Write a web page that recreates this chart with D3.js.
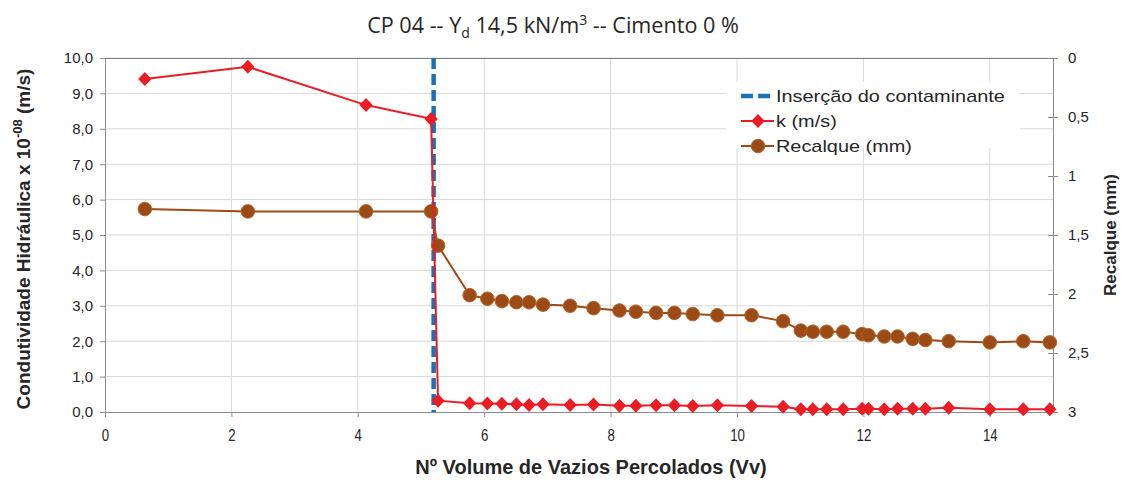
<!DOCTYPE html>
<html>
<head>
<meta charset="utf-8">
<script src="https://cdn.jsdelivr.net/npm/d3@7"></script>
<style>
  html, body { margin: 0; padding: 0; background: #fff; }
  svg { display: block; }
  text { font-family: "Liberation Sans", Arial, sans-serif; fill: #262626; }
</style>
</head>
<body>
<svg id="chart" width="1125" height="482"></svg>
<script>
// Volumes of voids percolated (Vv)
const vv = [0.63, 2.26, 4.13, 5.16, 5.27, 5.77, 6.05, 6.28, 6.51, 6.71, 6.93, 7.36, 7.73, 8.14, 8.40,
            8.72, 9.01, 9.30, 9.69, 10.23, 10.73, 11.01, 11.20, 11.42, 11.68, 11.98, 12.08, 12.33,
            12.54, 12.78, 12.98, 13.35, 14.00, 14.53, 14.95];
// Hydraulic conductivity k (x 10^-8 m/s)
const kValues = [9.41, 9.75, 8.67, 8.28, 0.32, 0.25, 0.24, 0.23, 0.22, 0.20, 0.22, 0.20, 0.21, 0.18, 0.18,
                 0.19, 0.19, 0.17, 0.19, 0.17, 0.15, 0.08, 0.08, 0.08, 0.08, 0.09, 0.09, 0.08,
                 0.09, 0.09, 0.09, 0.12, 0.08, 0.08, 0.08];
// Settlement (mm)
const recalque = [1.28, 1.30, 1.30, 1.30, 1.59, 2.01, 2.04, 2.06, 2.07, 2.07, 2.09, 2.10, 2.12, 2.14, 2.15,
                  2.16, 2.16, 2.17, 2.18, 2.18, 2.23, 2.31, 2.32, 2.32, 2.32, 2.34, 2.35, 2.36,
                  2.36, 2.38, 2.39, 2.40, 2.41, 2.40, 2.41];
// Contaminant insertion point
const insercao = 5.2;

const xTicks = [0, 2, 4, 6, 8, 10, 12, 14];
const leftTicks = [0, 1, 2, 3, 4, 5, 6, 7, 8, 9, 10];
const rightTicks = [0, 0.5, 1, 1.5, 2, 2.5, 3];
const legendLabels = ["Inserção do contaminante", "k (m/s)", "Recalque (mm)"];

const colK = "#ec1c24";
const colR = "#9c4a16";
const colRStroke = "#b5652a";
const colIns = "#1f6fb5";

const svg = d3.select("#chart");
const pL = 105, pR = 1053, pT = 58, pB = 412;

const x = d3.scaleLinear().domain([0, 15]).range([pL, pR]);
const yL = d3.scaleLinear().domain([0, 10]).range([pB, pT]);
const yR = d3.scaleLinear().domain([0, 3]).range([pT, pB]);

const commaFmt = f => v => d3.format(f)(v).replace(".", ",");

// grid
const grid = svg.append("g");
grid.selectAll(".gh").data(leftTicks.filter(d => d > 0)).join("line")
  .attr("x1", pL).attr("x2", pR)
  .attr("y1", d => yL(d)).attr("y2", d => yL(d))
  .attr("stroke", "#d9d9d9").attr("stroke-width", 1);
grid.selectAll(".gv").data(xTicks.filter(d => d > 0)).join("line")
  .attr("x1", d => x(d)).attr("x2", d => x(d))
  .attr("y1", pT).attr("y2", pB)
  .attr("stroke", "#d9d9d9").attr("stroke-width", 1);

// top border
svg.append("line").attr("x1", pL).attr("x2", pR).attr("y1", pT + 0.5).attr("y2", pT + 0.5)
  .attr("stroke", "#7f7f7f");

// axes
const axisStyle = g => {
  g.selectAll(".domain").attr("stroke", "#8c8c8c");
  g.selectAll(".tick line").attr("stroke", "#8c8c8c");
  g.selectAll("text").attr("fill", "#404040");
};

svg.append("g").attr("transform", `translate(0,${pB})`)
  .call(d3.axisBottom(x).tickValues(xTicks).tickSize(5).tickSizeOuter(0).tickPadding(12))
  .call(axisStyle)
  .call(g => g.selectAll("text").style("font-size", "17px").attr("transform", "scale(0.78,1)"));

svg.append("g").attr("transform", `translate(${pL},0)`)
  .call(d3.axisLeft(yL).tickValues(leftTicks).tickFormat(commaFmt(".1f")).tickSize(5).tickSizeOuter(0).tickPadding(7))
  .call(axisStyle)
  .call(g => g.selectAll("text").style("font-size", "15px"));

const rAxis = svg.append("g").attr("transform", `translate(${pR},0)`)
  .call(d3.axisRight(yR).tickValues(rightTicks).tickFormat(v => String(v).replace(".", ",")).tickSize(5).tickSizeOuter(0).tickPadding(10))
  .call(axisStyle)
  .call(g => g.selectAll("text").style("font-size", "15px"));
rAxis.selectAll(".tick line").attr("x1", -5);

// insertion line
svg.append("line")
  .attr("x1", x(insercao)).attr("x2", x(insercao))
  .attr("y1", yL(10)).attr("y2", yL(0))
  .attr("stroke", colIns).attr("stroke-width", 4.5).attr("stroke-dasharray", "11,5");

const pts = vv.map((v, i) => ({ x: v, k: kValues[i], r: recalque[i] }));

// settlement series
svg.append("path").datum(pts)
  .attr("fill", "none").attr("stroke", colR).attr("stroke-width", 2)
  .attr("d", d3.line().x(d => x(d.x)).y(d => yR(d.r)));
svg.selectAll(".rc").data(pts).join("circle")
  .attr("cx", d => x(d.x)).attr("cy", d => yR(d.r)).attr("r", 6.8)
  .attr("fill", colR).attr("stroke", colRStroke).attr("stroke-width", 1);

// conductivity series
const squareDiamond = {
  draw(ctx, size) {
    const h = Math.sqrt(size / 2);
    ctx.moveTo(0, -h); ctx.lineTo(h * 0.95, 0); ctx.lineTo(0, h); ctx.lineTo(-h * 0.95, 0); ctx.closePath();
  }
};
const diamond = d3.symbol().type(squareDiamond).size(98);
svg.append("path").datum(pts)
  .attr("fill", "none").attr("stroke", colK).attr("stroke-width", 2)
  .attr("d", d3.line().x(d => x(d.x)).y(d => yL(d.k)));
svg.selectAll(".kd").data(pts).join("path")
  .attr("transform", d => `translate(${x(d.x)},${yL(d.k)})`)
  .attr("d", diamond).attr("fill", colK);

// legend
const lg = svg.append("g").attr("transform", "translate(738,96)");
lg.append("rect").attr("x", -12).attr("y", -14).attr("width", 294).attr("height", 66).attr("fill", "#fff");
lg.append("line").attr("x1", 3).attr("x2", 36).attr("y1", 0).attr("y2", 0)
  .attr("stroke", colIns).attr("stroke-width", 4.5).attr("stroke-dasharray", "12,5");
lg.append("line").attr("x1", 3).attr("x2", 36).attr("y1", 25).attr("y2", 25)
  .attr("stroke", colK).attr("stroke-width", 2);
lg.append("path").attr("transform", "translate(20,25)").attr("d", diamond).attr("fill", colK);
lg.append("line").attr("x1", 3).attr("x2", 36).attr("y1", 50).attr("y2", 50)
  .attr("stroke", colR).attr("stroke-width", 2);
lg.append("circle").attr("cx", 20).attr("cy", 50).attr("r", 6.8).attr("fill", colR).attr("stroke", colRStroke);
lg.selectAll(".lt").data(legendLabels).join("text")
  .attr("transform", (d, i) => `translate(38,${i * 25 + 6}) scale(1.17,1)`)
  .style("font-size", "17px").attr("fill", "#262626")
  .text(d => d);

// title
const title = svg.append("text").attr("x", 553).attr("y", 33).attr("text-anchor", "middle")
  .style("font-family", "'Open Sans', 'Noto Sans', sans-serif").style("font-size", "21.6px");
title.append("tspan").text("CP 04 -- Y");
title.append("tspan").attr("dy", 5).style("font-size", "14px").text("d");
title.append("tspan").attr("dy", -5).text(" 14,5 kN/m");
title.append("tspan").attr("dy", -8).style("font-size", "14px").text("3");
title.append("tspan").attr("dy", 8).text(" -- Cimento 0 %");

// left axis title
const ylab = svg.append("text")
  .attr("transform", `translate(30,${(pT + pB) / 2 + 4}) rotate(-90)`)
  .attr("text-anchor", "middle")
  .style("font-size", "19px").style("font-weight", "bold");
ylab.append("tspan").text("Condutividade Hidráulica x 10");
ylab.append("tspan").attr("dy", -8).style("font-size", "13px").text("-08");
ylab.append("tspan").attr("dy", 8).text("  (m/s)");

// right axis title
svg.append("text")
  .attr("transform", `translate(1116,${(pT + pB) / 2}) rotate(-90)`)
  .attr("text-anchor", "middle")
  .style("font-size", "17px").style("font-weight", "bold")
  .text("Recalque (mm)");

// x axis title
svg.append("text").attr("x", 591).attr("y", 474).attr("text-anchor", "middle")
  .style("font-size", "20px").style("font-weight", "bold")
  .text("Nº Volume de Vazios Percolados (Vv)");
</script>
</body>
</html>
